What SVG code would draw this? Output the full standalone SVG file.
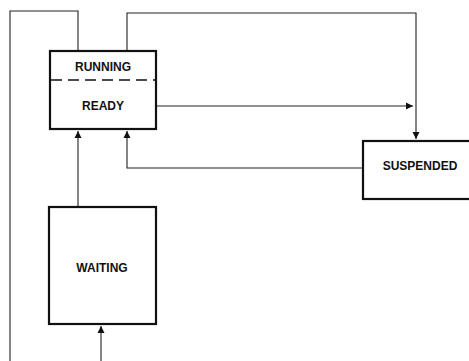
<svg xmlns="http://www.w3.org/2000/svg" width="469" height="361" viewBox="0 0 469 361">
<style>
.box{fill:none;stroke:#111;stroke-width:2.2}
.conn{fill:none;stroke:#222;stroke-width:1.1}
.dash{fill:none;stroke:#111;stroke-width:1.3;stroke-dasharray:11,6}
text{font-family:"Liberation Sans",Arial,sans-serif;font-weight:bold;font-size:12px;fill:#111;text-anchor:middle}
</style>
<defs>
<marker id="ah" viewBox="0 0 10 10" refX="10" refY="5" markerWidth="7" markerHeight="8" markerUnits="userSpaceOnUse" orient="auto">
<path d="M0,0 L10,5 L0,10 z" fill="#111"/>
</marker>
</defs>
<rect width="469" height="361" fill="#fff"/>
<g id="connectors">
<polyline class="conn" points="78,51 78,11 10,11 10,361"/>
<polyline class="conn" points="127,51 127,13 416,13 416,139" marker-end="url(#ah)"/>
<line class="conn" x1="156" y1="106" x2="413" y2="106" marker-end="url(#ah)"/>
<polyline class="conn" points="363,168 127,168 127,131" marker-end="url(#ah)"/>
<line class="conn" x1="78" y1="207" x2="78" y2="131" marker-end="url(#ah)"/>
<line class="conn" x1="101" y1="361" x2="101" y2="326" marker-end="url(#ah)"/>
</g>
<g id="running-ready">
<rect class="box" x="50" y="51" width="106" height="78"/>
<line class="dash" x1="51" y1="80" x2="155" y2="80"/>
<text x="103" y="71">RUNNING</text>
<text x="103" y="110">READY</text>
</g>
<g id="suspended">
<rect class="box" x="363" y="141" width="110" height="58"/>
<text x="420" y="170">SUSPENDED</text>
</g>
<g id="waiting">
<rect class="box" x="49" y="207" width="107" height="117"/>
<text x="102" y="272">WAITING</text>
</g>
</svg>
